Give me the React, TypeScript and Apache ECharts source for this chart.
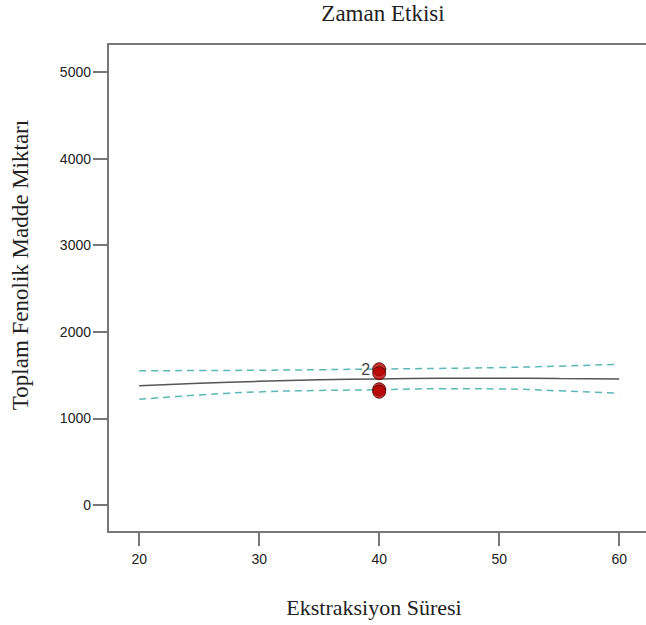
import React, { useEffect, useRef } from "react";
import * as echarts from "echarts";

const xTicks = [20, 30, 40, 50, 60];
const yTicks = [0, 1000, 2000, 3000, 4000, 5000];
const xs = [20, 25, 30, 35, 40, 45, 50, 55, 60];
const fitted = [1378, 1405, 1428, 1445, 1456, 1462, 1464, 1461, 1455];
const upper = [1551, 1552, 1556, 1562, 1570, 1577, 1587, 1603, 1625];
const lower = [1220, 1270, 1306, 1322, 1331, 1342, 1340, 1318, 1290];
const pointX = [40, 40, 40, 40];
const pointY = [1567, 1521, 1336, 1308];
const pointLabels = ["2", "", "", ""];

export default function App() {
  const ref = useRef<HTMLDivElement>(null);
  useEffect(() => {
    const chart = echarts.init(ref.current!, null, { renderer: "svg" });
    const pair = (a: number[], b: number[]) => a.map((v, i) => [v, b[i]]);
    const axisLineStyle = { color: "#777", width: 2 };
    chart.setOption({
      animation: false,
      backgroundColor: "#fff",
      title: {
        text: "Zaman Etkisi",
        left: 378,
        textAlign: "center",
        top: -3,
        textStyle: { fontFamily: "Liberation Serif", fontSize: 23, fontWeight: "normal", color: "#222" },
      },
      graphic: [
        {
          type: "rect",
          z: 100,
          shape: { x: 641, y: 46, width: 10, height: 485 },
          style: { fill: "#fff" },
        },
        {
          type: "line",
          z: 101,
          shape: { x1: 108, y1: 44, x2: 660, y2: 44 },
          style: { stroke: "#777", lineWidth: 2 },
        },
        {
          type: "text",
          x: 374,
          y: 607,
          style: {
            text: "Ekstraksiyon Süresi",
            textAlign: "center",
            textVerticalAlign: "middle",
            fontFamily: "Liberation Serif",
            fontSize: 22,
            fill: "#222",
          },
        },
        {
          type: "text",
          x: 20,
          y: 265,
          rotation: Math.PI / 2,
          style: {
            text: "Toplam Fenolik Madde Miktarı",
            textAlign: "center",
            textVerticalAlign: "middle",
            fontFamily: "Liberation Serif",
            fontSize: 23,
            fill: "#222",
          },
        },
      ],
      grid: {
        left: 108,
        top: 44,
        width: 600,
        height: 488,
        show: false,
        containLabel: false,
        outerBoundsMode: "none",
      },
      xAxis: {
        type: "value",
        min: 17.4,
        max: 67.4,
        splitLine: { show: false },
        axisLine: { show: true, onZero: false, lineStyle: axisLineStyle },
        axisTick: { show: true, customValues: xTicks, length: 14, lineStyle: axisLineStyle },
        axisLabel: { customValues: xTicks, margin: 20, fontFamily: "Liberation Sans", fontSize: 14, color: "#222" },
      },
      yAxis: {
        type: "value",
        min: -312,
        max: 5323,
        splitLine: { show: false },
        axisLine: { show: true, onZero: false, lineStyle: axisLineStyle },
        axisTick: { show: true, customValues: yTicks, length: 15, lineStyle: axisLineStyle },
        axisLabel: {
          customValues: yTicks,
          margin: 17,
          formatter: (v: number) => String(v),
          fontFamily: "Liberation Sans",
          fontSize: 14,
          color: "#222",
        },
      },
      series: [
        {
          type: "line",
          data: pair(xs, upper),
          smooth: true,
          symbol: "none",
          lineStyle: { color: "#5bb8b8", width: 1.5, type: [7, 5] },
        },
        {
          type: "line",
          data: pair(xs, lower),
          smooth: true,
          symbol: "none",
          lineStyle: { color: "#5bb8b8", width: 1.5, type: [7, 5] },
        },
        {
          type: "line",
          data: pair(xs, fitted),
          smooth: true,
          symbol: "none",
          lineStyle: { color: "#555", width: 1.5 },
        },
        {
          type: "scatter",
          data: pointX.map((x, i) => ({
            value: [x, pointY[i]],
            label: {
              show: pointLabels[i] !== "",
              formatter: pointLabels[i],
              position: "left",
              distance: 2,
              fontFamily: "Liberation Sans",
              fontSize: 16,
              color: "#111",
            },
          })),
          symbolSize: 13,
          itemStyle: { color: "#b80000", borderColor: "#4a0000", borderWidth: 1 },
          z: 5,
        },
      ],
    });
    return () => chart.dispose();
  }, []);
  return (
    <div
      ref={ref}
      style={{ position: "fixed", left: 0, top: 0, width: 646, height: 625, overflow: "hidden" }}
    />
  );
}
